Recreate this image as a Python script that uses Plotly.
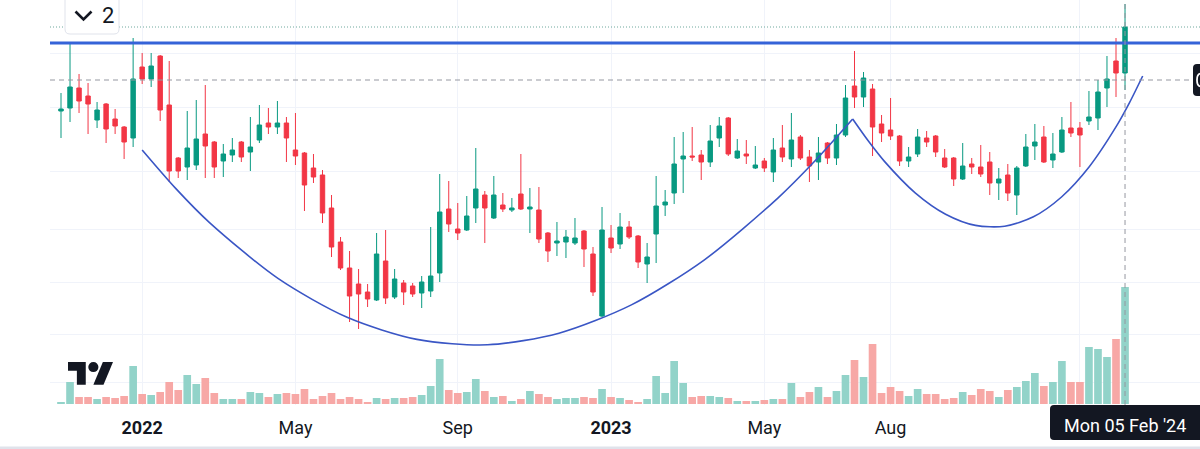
import plotly.graph_objects as go
import pandas as pd

# ---------------- data (weekly candles, Mon 01 Nov 2021 -> Mon 05 Feb 2024) ----------------
dates = pd.date_range("2021-11-01", periods=119, freq="7D")

opens = [159.5, 161, 171, 167, 155, 163, 155.5, 151.5, 146, 181.5,
         175.5, 187, 162.5, 136, 131.5, 132.5, 148, 144, 134.5, 137.5,
         144, 139, 145, 153.5, 151.5, 153.5, 140, 138.5, 131, 127.5,
         111, 94, 81, 73, 69, 65, 84.5, 66.5, 73.5, 72,
         68.5, 69.5, 78.5, 110.5, 100.5, 100, 111, 117.5, 106, 112.5,
         110, 118, 110.5, 110, 98.5, 93.5, 94, 93.5, 99.5, 88,
         57, 96, 93, 101.5, 97, 83, 98, 112.5, 118.5, 135.5,
         137, 137.5, 134, 146, 156, 136, 138, 131, 134.5, 129,
         141, 135.5, 146.5, 136.5, 134, 143.5, 136, 147.5, 172, 166.5,
         170.5, 153, 150, 147, 134.5, 138, 146, 147, 136, 136,
         125.5, 133, 131.5, 134, 123.5, 127.5, 117.5, 132, 142, 146.5,
         135, 139, 151, 151, 154.5, 156, 171, 184.5, 178.5]
highs = [168.5, 193.5, 178, 173.5, 164, 163.5, 160.5, 152, 196, 188.5,
         188.5, 187.5, 184.5, 136.5, 159.5, 165, 172.5, 144.5, 143, 146,
         144.5, 156.5, 162.5, 161, 164.5, 156.5, 158.5, 139, 138, 130,
         117.5, 96.5, 89.5, 80.5, 73, 98.5, 100, 80.5, 75, 73.5,
         77, 101.5, 128, 124.5, 113.5, 117, 141, 119.5, 127, 118.5,
         116, 138, 121, 121.5, 99, 104, 100, 106, 100, 91.5,
         111.5, 102.5, 108.5, 104.5, 97.5, 93.5, 127, 120, 146.5, 149,
         151.5, 140, 152.5, 156.5, 156.5, 145.5, 145, 142, 136, 146,
         152.5, 158.5, 147.5, 140, 146.5, 144, 153, 172.5, 189.5, 179,
         173, 157.5, 166, 147.5, 141.5, 150.5, 149.5, 147.5, 140.5, 136.5,
         143.5, 136, 142.5, 139, 131, 133, 132, 148, 153, 152,
         148.5, 156.5, 164, 154, 169.5, 175, 187, 196, 213]
lows = [146, 154, 158.5, 148, 151, 143.5, 148, 135.5, 141.5, 173,
        171.5, 154.5, 124, 126, 125, 130, 126, 126, 126.5, 134,
        134, 129.5, 143.5, 148, 148, 134, 132.5, 109.5, 123.5, 103.5,
        86.5, 80, 54, 50.5, 61.5, 64.5, 63, 65.5, 62.5, 66.5,
        61, 66.5, 74, 99, 95, 99.5, 103.5, 93.5, 105.5, 109,
        109, 110, 98.5, 93.5, 84, 87, 86, 92.5, 81.5, 67,
        56.5, 88.5, 90.5, 95.5, 81, 73.5, 83.5, 107, 113, 118.5,
        134.5, 125, 131.5, 141.5, 137, 135.5, 133, 130.5, 129, 124,
        134, 131.5, 135, 124, 125, 133, 132.5, 146.5, 161, 161.5,
        137, 144, 145, 132, 131.5, 136.5, 141.5, 136.5, 131, 122,
        125, 128, 126.5, 117.5, 115, 114.5, 107.5, 131.5, 135, 133.5,
        131, 138.5, 146.5, 131.5, 152.5, 150, 161.5, 166.5, 170]
closes = [160.5, 171.5, 164.5, 163, 160, 150.5, 152, 144, 175.5, 175.5,
          182, 160, 129.5, 129.5, 141, 145.5, 142, 131.5, 138, 140,
          136.5, 141.5, 152.5, 151.5, 153.5, 146, 137, 122.5, 126.5, 108.5,
          91.5, 81, 67, 68, 65.5, 88, 66, 75.5, 69, 68,
          74, 77, 109, 103, 98.5, 107, 120.5, 111, 117.5, 110.5,
          111, 110.5, 111.5, 95.5, 89.5, 94.5, 96.5, 96, 90.5, 69,
          100, 91, 101.5, 96.5, 84, 86.5, 112, 114, 133, 137,
          136.5, 134, 144.5, 152, 138, 139.5, 137, 132.5, 131, 140,
          136.5, 145, 136, 132, 138.5, 136, 147.5, 166, 166.5, 176,
          151.5, 148.5, 147, 134.5, 136.5, 146.5, 144, 139, 131.5, 125.5,
          132, 131.5, 128, 123.5, 125.5, 118.5, 131, 141.5, 144, 134,
          138, 150, 148.5, 147.5, 156.5, 169, 175.5, 178.5, 201.5]
volumes = [20, 220, 70, 70, 50, 70, 60, 80, 380, 100,
           90, 120, 220, 140, 290, 200, 260, 110, 50, 50,
           50, 120, 110, 70, 100, 110, 100, 150, 50, 80,
           110, 50, 70, 50, 20, 60, 50, 60, 60, 70,
           90, 180, 450, 140, 110, 120, 250, 130, 70, 80,
           30, 50, 130, 100, 70, 50, 60, 60, 70, 60,
           150, 70, 60, 40, 20, 50, 280, 110, 430, 210,
           70, 80, 80, 70, 60, 30, 30, 30, 40, 50,
           50, 210, 70, 120, 170, 70, 130, 290, 440, 270,
           600, 110, 170, 130, 80, 150, 100, 100, 50, 60,
           120, 90, 150, 130, 70, 140, 170, 230, 310, 180,
           220, 430, 220, 220, 570, 550, 470, 650, 1170]

# drawn pattern (cup & handle): points read along the two drawn arcs
cup_dates = ["2022-01-03 00:00", "2022-01-29 00:00", "2022-02-24 07:00", "2022-04-18 10:00",
             "2022-06-11 02:00", "2022-08-04 07:00", "2022-09-28 05:00", "2022-11-22 14:00",
             "2023-01-17 19:00", "2023-03-15 12:00", "2023-05-11 17:00", "2023-06-09 14:00",
             "2023-07-08 14:00"]
cup_prices = [140, 120.8, 103.7, 75.8, 56.35, 45.3, 42.6, 48.4, 62.55, 85.1, 116.1, 134.75, 155.5]
handle_dates = ["2023-07-08 14:00", "2023-07-20 22:00", "2023-08-02 02:00", "2023-08-26 02:00",
                "2023-09-18 17:00", "2023-10-11 22:00", "2023-11-03 14:00", "2023-11-25 22:00",
                "2023-12-17 17:00", "2024-01-08 02:00", "2024-01-29 02:00", "2024-02-08 12:00",
                "2024-02-18 17:00"]
handle_prices = [155.5, 144.35, 134.45, 118.6, 107.9, 102.3, 101.9, 106.6, 116.5, 131.5, 151.65, 163.7, 177]

resistance_price = 193.5
last_price = 201.5
cross_price = 175.0
cross_date = "2024-02-05"

tick_dates = ["2022-01-03", "2022-05-02", "2022-09-05", "2023-01-02", "2023-05-01", "2023-08-07", "2024-01-01"]
tick_text = ["<b>2022</b>", "May", "Sep", "<b>2023</b>", "May", "Aug", ""]
grid_prices = [188.5, 161.5, 129.5, 100.5, 74, 48, 24]

# ---------------- styling ----------------
UP, DOWN = "#089981", "#f23645"
UP_VOL, DOWN_VOL = "#92d3c9", "#f7a8a6"
INK = "#131722"
GRID = "#f0f3fa"
FONT = "Roboto"
CURVE = "#3a56c5"

L, T, W, H = 50, 0, 1150, 405  # plot area in pixels


def px(x):
    return (x - L) / W


def py(y):
    return (H - y) / H


def rrect(x0, y0, x1, y1, r):
    pts = [f"M{px(x0 + r)},{py(y0)}", f"L{px(x1 - r)},{py(y0)}",
           f"Q{px(x1)},{py(y0)} {px(x1)},{py(y0 + r)}", f"L{px(x1)},{py(y1 - r)}",
           f"Q{px(x1)},{py(y1)} {px(x1 - r)},{py(y1)}", f"L{px(x0 + r)},{py(y1)}",
           f"Q{px(x0)},{py(y1)} {px(x0)},{py(y1 - r)}", f"L{px(x0)},{py(y0 + r)}",
           f"Q{px(x0)},{py(y0)} {px(x0 + r)},{py(y0)}", "Z"]
    return " ".join(pts)


def poly(points):
    s = " ".join(("M" if i == 0 else "L") + f"{px(a)},{py(b)}" for i, (a, b) in enumerate(points))
    return s + " Z"


vol_colors = [UP_VOL if c >= o else DOWN_VOL for o, c in zip(opens, closes)]

fig = go.Figure()
fig.add_trace(go.Bar(x=dates, y=volumes, marker=dict(color=vol_colors, line=dict(width=0)),
                     yaxis="y2", hoverinfo="skip", showlegend=False))
fig.add_trace(go.Candlestick(
    x=dates, open=opens, high=highs, low=lows, close=closes,
    increasing=dict(line=dict(color=UP, width=1), fillcolor=UP),
    decreasing=dict(line=dict(color=DOWN, width=1), fillcolor=DOWN),
    whiskerwidth=0, hoverinfo="skip", showlegend=False))
for cd, cp in ((cup_dates, cup_prices), (handle_dates, handle_prices)):
    fig.add_trace(go.Scatter(x=pd.to_datetime(cd, format="%Y-%m-%d %H:%M"), y=cp, mode="lines",
                             line=dict(color=CURVE, width=1.6, shape="spline", smoothing=0.8),
                             hoverinfo="skip", showlegend=False))

# TradingView logo geometry (36x28 design grid), scaled into place
LS, LX, LY = 1.268, 68.0, 356.9


def lg(a, b):
    return (LX + a * LS, LY + b * LS)


shapes = [
    # last price dotted line
    dict(type="line", xref="paper", yref="y", x0=0, x1=1, y0=last_price, y1=last_price,
         line=dict(color="#6fa89d", width=1, dash="1px,2px"), layer="above"),
    # drawn resistance line
    dict(type="line", xref="paper", yref="y", x0=0, x1=1, y0=resistance_price, y1=resistance_price,
         line=dict(color="#3563d8", width=3), layer="above"),
    # crosshair lines
    dict(type="line", xref="paper", yref="y", x0=0, x1=px(1192), y0=cross_price, y1=cross_price,
         line=dict(color="#9598a1", width=1, dash="5px,4px"), layer="above"),
    dict(type="line", xref="x", yref="paper", x0=cross_date, x1=cross_date, y0=py(405), y1=1,
         line=dict(color="#9598a1", width=1, dash="5px,4px"), layer="above"),
    # legend toggle box
    dict(type="path", xref="paper", yref="paper", path=rrect(65, -6, 119, 34, 5),
         fillcolor="white", line=dict(color="#e0e3eb", width=1), layer="above"),
    dict(type="path", xref="paper", yref="paper",
         path=f"M{px(75.5)},{py(11.5)} L{px(83.5)},{py(19.5)} L{px(91.5)},{py(11.5)}",
         line=dict(color=INK, width=2.6), layer="above"),
    # TradingView logo
    dict(type="path", xref="paper", yref="paper",
         path=poly([lg(0, 4), lg(14, 4), lg(14, 22), lg(7, 22), lg(7, 11), lg(0, 11)]),
         fillcolor=INK, line=dict(width=0), layer="above"),
    dict(type="circle", xref="paper", yref="paper",
         x0=px(lg(16, 4)[0]), x1=px(lg(24, 12)[0]), y0=py(lg(16, 12)[1]), y1=py(lg(16, 4)[1]),
         fillcolor=INK, line=dict(width=0), layer="above"),
    dict(type="path", xref="paper", yref="paper",
         path=poly([lg(20, 22), lg(27.5, 4), lg(35.5, 4), lg(28, 22)]),
         fillcolor=INK, line=dict(width=0), layer="above"),
    # time label box
    dict(type="path", xref="paper", yref="paper", path=rrect(1050, 405, 1212, 440, 4),
         fillcolor=INK, line=dict(width=0), layer="above"),
    # price label box (cut at the right edge) with the sliver of its first glyph
    dict(type="path", xref="paper", yref="paper", path=rrect(1193, 64, 1215, 96, 4),
         fillcolor=INK, line=dict(width=0), layer="above"),
    dict(type="path", xref="paper", yref="paper",
         path=f"M{px(1201)},{py(73.5)} Q{px(1197)},{py(73.5)} {px(1197)},{py(80)} "
              f"Q{px(1197)},{py(86.5)} {px(1201)},{py(86.5)}",
         line=dict(color="white", width=1.8), layer="above"),
    # bottom border
    dict(type="rect", xref="paper", yref="paper", x0=px(0), x1=px(1200), y0=py(446.5), y1=py(452),
         fillcolor="#e0e3eb", line=dict(width=0), layer="above"),
]

annotations = [
    dict(text="2", xref="paper", yref="paper", x=px(107.5), y=py(15.5), showarrow=False,
         font=dict(family=FONT, size=22, color=INK), xanchor="center", yanchor="middle"),
    dict(text="Mon 05 Feb '24", xref="x", yref="paper", x=cross_date, y=py(425.5), showarrow=False,
         font=dict(family=FONT, size=18, color="white"), xanchor="center", yanchor="middle"),
]

fig.update_layout(
    width=1200, height=449,
    margin=dict(l=L, r=0, t=T, b=449 - H),
    paper_bgcolor="white", plot_bgcolor="white",
    showlegend=False, bargap=0.15, boxgap=0.3,
    font=dict(family=FONT, color=INK),
    xaxis=dict(type="date", range=["2021-10-23 11:00", "2024-04-03 05:00"],
               rangeslider=dict(visible=False), tickmode="array",
               tickvals=pd.to_datetime(tick_dates), ticktext=tick_text,
               showgrid=True, gridcolor=GRID, gridwidth=1, zeroline=False, showline=False,
               ticks="", tickfont=dict(family=FONT, size=18, color=INK), ticklabelstandoff=10,
               fixedrange=True),
    yaxis=dict(range=[12.5, 215], tickmode="array", tickvals=grid_prices, showticklabels=False,
               showgrid=True, gridcolor=GRID, gridwidth=1, zeroline=False, showline=False,
               ticks="", fixedrange=True),
    yaxis2=dict(range=[-10, 4040], overlaying="y", anchor="x", side="right", visible=False,
                showgrid=False, zeroline=False, fixedrange=True),
    shapes=shapes, annotations=annotations,
)

fig.write_html("out.html")
